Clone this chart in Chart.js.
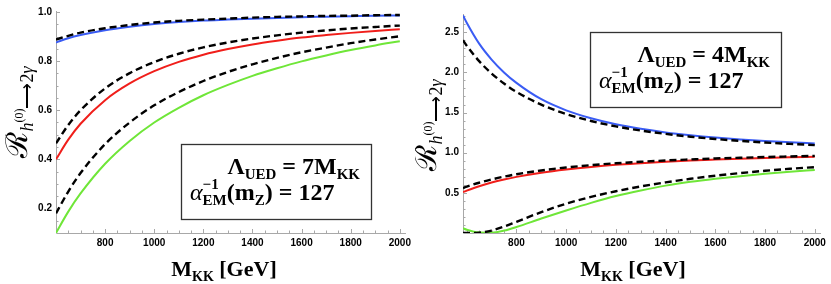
<!DOCTYPE html>
<html><head><meta charset="utf-8">
<script src="https://cdn.jsdelivr.net/npm/chart.js@4.4.1/dist/chart.umd.min.js"></script>
<style>
html,body{margin:0;padding:0;background:#fff;width:831px;height:284px;overflow:hidden}
#wrap{position:relative;width:831px;height:284px}
.c{position:absolute;top:0;height:284px}
</style></head><body>
<div id="wrap">
<div class="c" style="left:0;width:415px"><canvas id="left"></canvas></div>
<div class="c" style="left:415px;width:416px"><canvas id="right"></canvas></div>
</div>
<script>
// ---------- data ----------
const mkkLeft = [600,650,700,800,900,1000,1100,1200,1300,1400,1500,1600,1700,1800,1900,2000];
const leftBlue      = [0.876,0.893,0.906,0.926,0.940,0.951,0.959,0.965,0.969,0.973,0.976,0.979,0.981,0.983,0.985,0.986];
const leftBlueDash  = [0.888,0.903,0.916,0.934,0.947,0.957,0.964,0.969,0.973,0.977,0.980,0.982,0.984,0.985,0.987,0.988];
const leftRed       = [0.400,0.480,0.545,0.641,0.709,0.759,0.797,0.826,0.849,0.868,0.883,0.896,0.906,0.915,0.923,0.930];
const leftRedDash   = [0.465,0.540,0.600,0.689,0.751,0.796,0.830,0.856,0.876,0.892,0.905,0.916,0.925,0.933,0.939,0.945];
const leftGreen     = [0.100,0.187,0.261,0.382,0.475,0.550,0.610,0.661,0.703,0.740,0.771,0.799,0.823,0.845,0.864,0.881];
const leftGreenDash = [0.180,0.269,0.344,0.462,0.550,0.620,0.674,0.719,0.756,0.787,0.813,0.836,0.855,0.873,0.888,0.901];

const mkkRight = [585,600,650,700,750,800,900,1000,1100,1200,1300,1400,1500,1600,1700,1800,1900,2000];
const rightBlue      = [2.710,2.618,2.358,2.160,2.000,1.870,1.666,1.528,1.429,1.354,1.298,1.253,1.218,1.189,1.165,1.146,1.130,1.115];
const rightBlueDash  = [2.400,2.333,2.140,1.987,1.861,1.758,1.598,1.482,1.395,1.328,1.276,1.234,1.199,1.171,1.147,1.127,1.110,1.095];
const rightRed       = [0.510,0.528,0.583,0.628,0.666,0.699,0.751,0.791,0.823,0.849,0.869,0.887,0.902,0.914,0.925,0.935,0.943,0.950];
const rightRedDash   = [0.560,0.577,0.626,0.667,0.702,0.732,0.779,0.816,0.845,0.868,0.887,0.903,0.916,0.928,0.937,0.946,0.953,0.960];
const rightGreen     = [0.060,0.040,0.006,0.004,0.030,0.075,0.180,0.280,0.375,0.460,0.530,0.590,0.637,0.675,0.708,0.738,0.763,0.785];
const rightGreenDash = [0.000,0.000,0.004,0.030,0.080,0.140,0.260,0.365,0.450,0.520,0.580,0.630,0.675,0.713,0.746,0.775,0.800,0.820];

const xTickLabels  = [800,1000,1200,1400,1600,1800,2000];
const yTicksLeft   = [0.2,0.4,0.6,0.8,1.0];
const yTicksRight  = [0.5,1.0,1.5,2.0,2.5];
const lambdaLeft = '7', lambdaRight = '4', alphaInv = '127';

// ---------- styling ----------
const SERIF='"Liberation Serif"';
const SANS='Liberation Sans';
const BLUE='#3a5cf4', RED='#f01e1a', GREEN='#6fe638';
const AXIS='#a8a8a8';

function pts(xs, ys){ return xs.map((x,i)=>({x:x, y:ys[i]})); }
function solid(xs, ys, c){ return {data:pts(xs,ys), borderColor:c, borderWidth:2, pointRadius:0, cubicInterpolationMode:'monotone', fill:false, order:2}; }
function dashed(xs, ys){ return {data:pts(xs,ys), borderColor:'#000', borderWidth:2.4, borderDash:[7,4], pointRadius:0, cubicInterpolationMode:'monotone', fill:false, order:1}; }

function runWidth(ctx, runs){ let w=0; for(const r of runs){ if(r.stack){ let m=0; for(const s of r.stack){ctx.font=s.font; m=Math.max(m,ctx.measureText(s.t).width);} w+=m; } else { ctx.font=r.font; w+=ctx.measureText(r.t).width; } } return w; }
function drawRuns(ctx, x, y, runs){ for(const r of runs){ if(r.stack){ let m=0; for(const s of r.stack){ctx.font=s.font; ctx.fillText(s.t,x,y+(s.dy||0)); m=Math.max(m,ctx.measureText(s.t).width);} x+=m; } else { ctx.font=r.font; ctx.fillText(r.t,x,y+(r.dy||0)); x+=ctx.measureText(r.t).width; } } }

const B24='bold 24px '+SERIF, B15='bold 15px '+SERIF;
function boxLines(lam){
  return [
    [{t:'Λ',font:B24},{t:'UED',font:B15,dy:5},{t:' = '+lam+'M',font:B24},{t:'KK',font:B15,dy:5}],
    [{t:'α',font:'italic 24px '+SERIF},{stack:[{t:'−1',font:B15,dy:-11},{t:'EM',font:B15,dy:5}]},{t:'(m',font:B24},{t:'Z',font:B15,dy:5},{t:') = '+alphaInv,font:B24}]
  ];
}
const xTitle=[{t:'M',font:'bold 22px '+SERIF},{t:'KK',font:'bold 14px '+SERIF,dy:5},{t:' [GeV]',font:'bold 22px '+SERIF}];
const yTitle=[{t:'ℛ',font:'30px '+SERIF},{t:'h',font:'italic 18px '+SERIF,dy:6},{t:'(0)',font:'12px '+SERIF,dy:-4},{t:'⟶',font:'18px '+SERIF,dy:6},{t:'2',font:'18px '+SERIF,dy:6},{t:'γ',font:'italic 18px '+SERIF,dy:6}];

function makePlugin(cfg){
  return {
    id:'mma'+cfg.name,
    beforeDatasetsDraw(chart){
      const {ctx, chartArea:a, scales:{x,y}} = chart;
      ctx.save();
      ctx.strokeStyle=AXIS; ctx.lineWidth=1;
      ctx.beginPath();
      ctx.moveTo(a.left+0.5, a.top-1); ctx.lineTo(a.left+0.5, a.bottom+0.5); ctx.lineTo(a.right, a.bottom+0.5);
      ctx.stroke();
      ctx.beginPath();
      for(let v=Math.ceil(x.min/50)*50; v<=x.max; v+=50){
        const px=Math.round(x.getPixelForValue(v))+0.5;
        if(px<=a.left+1) continue;
        const L = xTickLabels.includes(v)?4:2.5;
        ctx.moveTo(px,a.bottom); ctx.lineTo(px,a.bottom-L);
      }
      const ys=cfg.yMinor;
      for(let k=Math.ceil((y.min+1e-9)/ys); k*ys<=y.max+1e-9; k++){
        const v=+(k*ys).toFixed(3);
        const py=Math.round(y.getPixelForValue(v))+0.5;
        if(py>=a.bottom-1) continue;
        const L = cfg.yTicks.some(t=>Math.abs(t-v)<1e-6)?4:2.5;
        ctx.moveTo(a.left,py); ctx.lineTo(a.left+L,py);
      }
      ctx.stroke();
      ctx.restore();
    },
    afterDatasetsDraw(chart){
      const {ctx, chartArea:a} = chart;
      ctx.save();
      ctx.textAlign='left'; ctx.textBaseline='alphabetic';
      const bx=cfg.box;
      ctx.fillStyle='#fff'; ctx.fillRect(bx.x,bx.y,bx.w,bx.h);
      ctx.strokeStyle='#333'; ctx.lineWidth=1.3; ctx.strokeRect(bx.x+0.5,bx.y+0.5,bx.w,bx.h);
      ctx.fillStyle='#000';
      const lines=boxLines(cfg.lam);
      const w1=runWidth(ctx,lines[0]);
      drawRuns(ctx, bx.x+bx.w-11-w1, bx.y+30, lines[0]);
      drawRuns(ctx, bx.x+9, bx.y+56, lines[1]);
      const wx=runWidth(ctx,xTitle);
      drawRuns(ctx, (a.left+a.right)/2-cfg.xTitleShift-wx/2, 276, xTitle);
      const wy=runWidth(ctx,yTitle);
      ctx.translate(a.left-cfg.yTitleOff, cfg.yTitleCenter);
      ctx.rotate(-Math.PI/2);
      drawRuns(ctx, -wy/2, 0, yTitle);
      ctx.restore();
    }
  };
}

function makeChart(id, cfg){
  return new Chart(document.getElementById(id), {
    type:'line',
    data:{datasets:cfg.datasets},
    options:{
      responsive:true, maintainAspectRatio:false, animation:false, devicePixelRatio:1,
      layout:{padding:{left:0,right:cfg.padRight,top:cfg.padTop,bottom:0}},
      plugins:{legend:{display:false},tooltip:{enabled:false}},
      scales:{
        x:{type:'linear',min:cfg.xmin,max:cfg.xmax,
           grid:{display:false,drawTicks:false},border:{display:false},
           afterBuildTicks:s=>{s.ticks=xTickLabels.map(v=>({value:v}));},
           afterFit:s=>{s.height=51;},
           ticks:{padding:4,autoSkip:false,maxRotation:0,color:'#000',font:{family:SANS,size:10,weight:'bold'},callback:v=>String(v)}},
        y:{type:'linear',min:cfg.ymin,max:cfg.ymax,
           grid:{display:false,drawTicks:false},border:{display:false},
           afterBuildTicks:s=>{s.ticks=cfg.yTicks.map(v=>({value:v}));},
           afterFit:s=>{s.width=cfg.yWidth;},
           ticks:{padding:4,autoSkip:false,color:'#000',font:{family:SANS,size:10,weight:'bold'},callback:v=>Number(v).toFixed(1)}}
      }
    },
    plugins:[makePlugin(cfg)]
  });
}

makeChart('left',{
  name:'L', xmin:600, xmax:2025, ymin:0.1, ymax:1.0, yWidth:56, padRight:3, padTop:12,
  yTicks:yTicksLeft, yMinor:0.05, lam:lambdaLeft,
  box:{x:181,y:144,w:190,h:75}, xTitleShift:7, yTitleOff:29, yTitleCenter:112,
  datasets:[
    dashed(mkkLeft,leftBlueDash), dashed(mkkLeft,leftRedDash), dashed(mkkLeft,leftGreenDash),
    solid(mkkLeft,leftBlue,BLUE), solid(mkkLeft,leftRed,RED), solid(mkkLeft,leftGreen,GREEN)
  ]
});
makeChart('right',{
  name:'R', xmin:585, xmax:2025, ymin:0, ymax:2.715, yWidth:48, padRight:10, padTop:15,
  yTicks:yTicksRight, yMinor:0.1, lam:lambdaRight,
  box:{x:175,y:32,w:191,h:75}, xTitleShift:9, yTitleOff:27, yTitleCenter:125,
  datasets:[
    dashed(mkkRight,rightBlueDash), dashed(mkkRight,rightRedDash), dashed(mkkRight,rightGreenDash),
    solid(mkkRight,rightBlue,BLUE), solid(mkkRight,rightRed,RED), solid(mkkRight,rightGreen,GREEN)
  ]
});
</script>
</body></html>
